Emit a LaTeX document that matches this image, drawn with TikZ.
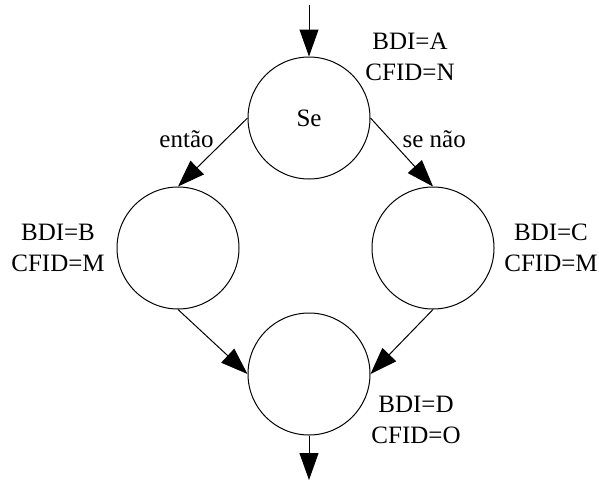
\documentclass[tikz,border=0pt]{standalone}
\usepackage{fontspec}
\setmainfont{Liberation Serif}
\usetikzlibrary{arrows.meta}
\usetikzlibrary{positioning}
\usetikzlibrary{automata}

\begin{document}
\begin{tikzpicture}[x=0.5pt, y=-0.5pt, on grid,
        every state/.style={draw, line width=0.5pt, minimum size=61pt, inner sep=0pt},
        rotulo/.style={align=center},
        font=\fontsize{12.5}{15.5}\selectfont,
        >={Triangle[length=13.5pt, width=9.5pt]}, line width=0.5pt]

            \useasboundingbox (0,0) rectangle (599,482);

            \node[state] (se)  at (309,118)                          {Se};
            \node[state] (esq) [below left = 65pt and 65.5pt of se]  {};
            \node[state] (dir) [below right = 65pt and 62pt of se]   {};
            \node[state] (fim) [below = 128pt of se]                 {};

            \coordinate (ini) at (309,5);
            \coordinate (sai) at (309,480);

            \node[rotulo] (bdi_a) [above right = 30.5pt and 50.5pt of se] {BDI=A\\CFID=N};
            \node[rotulo] (bdi_b) [left = 60pt of esq]                    {BDI=B\\CFID=M};
            \node[rotulo] (bdi_c) [right = 59pt of dir]                   {BDI=C\\CFID=M};
            \node[rotulo] (bdi_d) [below right = 23pt and 53.5pt of fim]  {BDI=D\\CFID=O};

            \path[->]
                (ini) edge (se)
                (se.west) edge node[pos=0.25, left=7pt, yshift=-2pt, inner sep=1pt] {então} (esq.north)
                (se.east) edge node[pos=0.25, right=7pt, yshift=-2pt, inner sep=1pt] {se não} (dir.north)
                (esq.south) edge (fim.west)
                (dir.south) edge (fim.east)
                (fim) edge (sai);

        \end{tikzpicture}
\end{document}
